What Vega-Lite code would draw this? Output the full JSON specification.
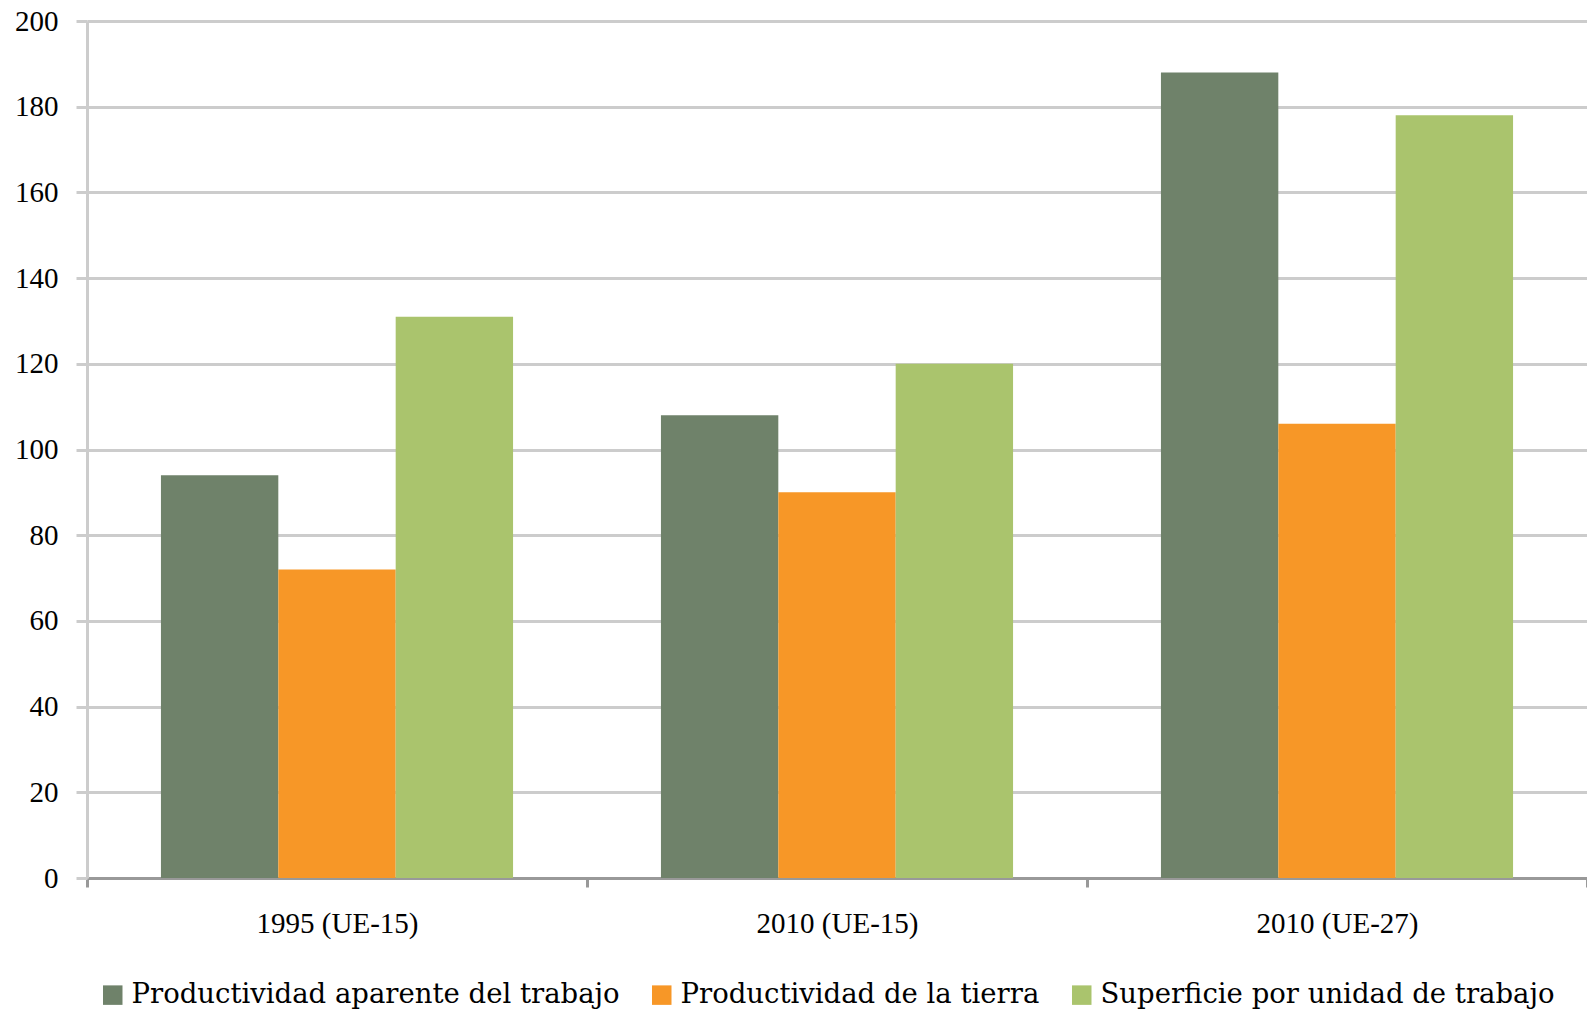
{
  "$schema": "https://vega.github.io/schema/vega-lite/v6.json",
  "autosize": "none",
  "padding": {"left": 87, "top": 21, "right": 0, "bottom": 133},
  "width": 1500,
  "height": 857,
  "background": "white",
  "config": {
    "view": {"stroke": null},
    "font": "Liberation Serif"
  },
  "data": {
    "values": [
      {"periodo": "1995 (UE-15)", "serie": "Productividad aparente del trabajo", "valor": 94},
      {"periodo": "1995 (UE-15)", "serie": "Productividad de la tierra", "valor": 72},
      {"periodo": "1995 (UE-15)", "serie": "Superficie por unidad de trabajo", "valor": 131},
      {"periodo": "2010 (UE-15)", "serie": "Productividad aparente del trabajo", "valor": 108},
      {"periodo": "2010 (UE-15)", "serie": "Productividad de la tierra", "valor": 90},
      {"periodo": "2010 (UE-15)", "serie": "Superficie por unidad de trabajo", "valor": 120},
      {"periodo": "2010 (UE-27)", "serie": "Productividad aparente del trabajo", "valor": 188},
      {"periodo": "2010 (UE-27)", "serie": "Productividad de la tierra", "valor": 106},
      {"periodo": "2010 (UE-27)", "serie": "Superficie por unidad de trabajo", "valor": 178}
    ]
  },
  "mark": {"type": "bar"},
  "encoding": {
    "x": {
      "field": "periodo",
      "type": "nominal",
      "sort": ["1995 (UE-15)", "2010 (UE-15)", "2010 (UE-27)"],
      "scale": {"paddingInner": 0, "paddingOuter": 0},
      "axis": {
        "title": null,
        "labelAngle": 0,
        "tickBand": "extent",
        "domainColor": "#999999",
        "domainWidth": 3,
        "tickColor": "#999999",
        "tickWidth": 3,
        "tickSize": 9,
        "labelPadding": 22,
        "labelFont": "Liberation Serif",
        "labelFontSize": 29,
        "labelColor": "#000000",
        "grid": false
      }
    },
    "xOffset": {
      "field": "serie",
      "type": "nominal",
      "sort": ["Productividad aparente del trabajo", "Productividad de la tierra", "Superficie por unidad de trabajo"],
      "scale": {"paddingInner": 0, "paddingOuter": 0.63}
    },
    "y": {
      "field": "valor",
      "type": "quantitative",
      "scale": {"domain": [0, 200], "nice": false},
      "axis": {
        "title": null,
        "values": [0, 20, 40, 60, 80, 100, 120, 140, 160, 180, 200],
        "grid": true,
        "gridColor": "#cccccc",
        "gridWidth": 3,
        "domainColor": "#cccccc",
        "domainWidth": 3,
        "tickColor": "#cccccc",
        "tickWidth": 3,
        "tickSize": 11,
        "labelPadding": 18,
        "labelFont": "Liberation Serif",
        "labelFontSize": 29,
        "labelColor": "#000000"
      }
    },
    "color": {
      "field": "serie",
      "type": "nominal",
      "sort": ["Productividad aparente del trabajo", "Productividad de la tierra", "Superficie por unidad de trabajo"],
      "scale": {
        "domain": ["Productividad aparente del trabajo", "Productividad de la tierra", "Superficie por unidad de trabajo"],
        "range": ["#6f826a", "#f79727", "#aac46d"]
      },
      "legend": {
        "title": null,
        "orient": "none",
        "direction": "horizontal",
        "legendX": 12,
        "legendY": 960,
        "padding": 0,
        "symbolType": "square",
        "symbolSize": 380,
        "symbolStrokeWidth": 0,
        "symbolOpacity": 1,
        "labelFont": "DejaVu Serif",
        "labelFontSize": 27.5,
        "labelColor": "#000000",
        "labelOffset": 5,
        "labelLimit": 0,
        "columnPadding": 28
      }
    }
  }
}
